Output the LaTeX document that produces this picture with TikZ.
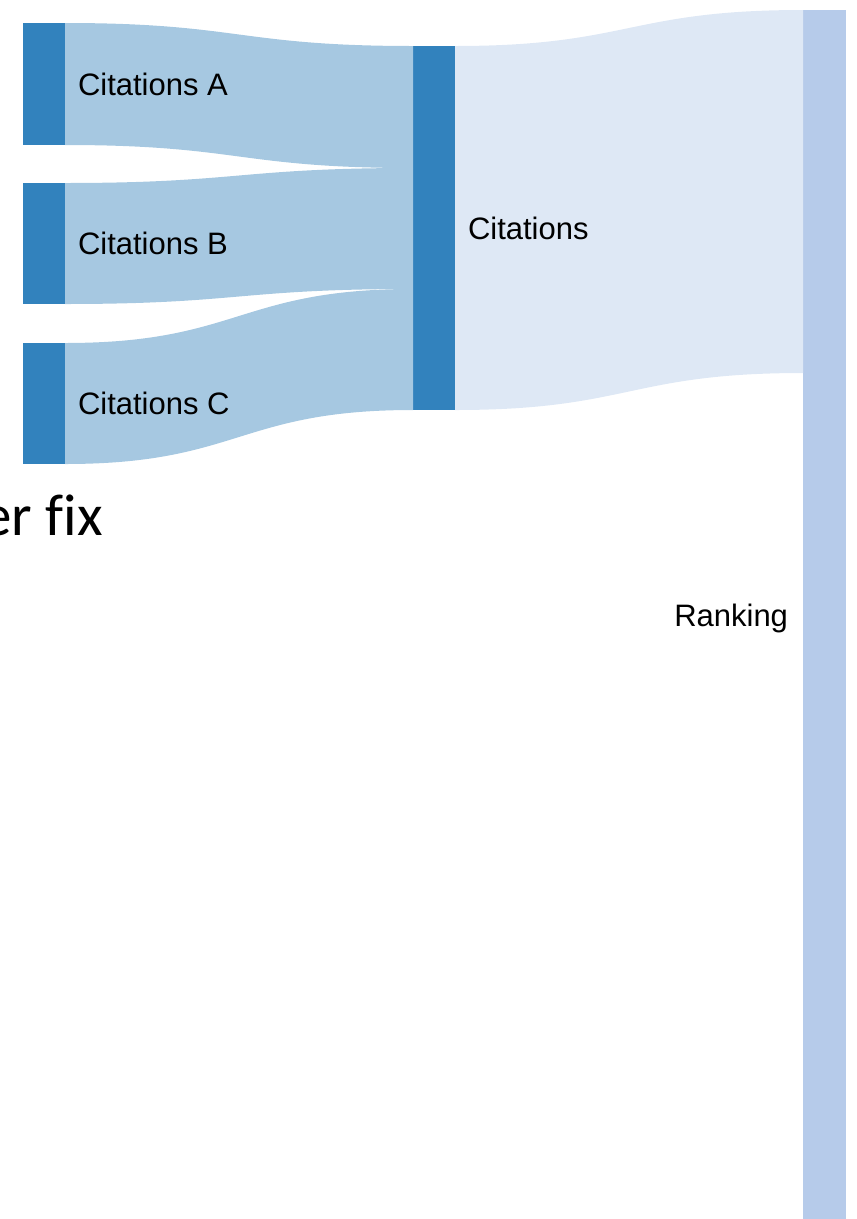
\documentclass[tikz,border=0pt]{standalone}
\usepackage{fontspec}
\setmainfont{Liberation Sans}
\newfontfamily\calib[Ligatures={NoCommon}]{Carlito}
\usetikzlibrary{calc}
\definecolor{barDark}{RGB}{50,130,189}
\definecolor{flowL}{RGB}{166,200,225}
\definecolor{flowM}{RGB}{222,232,245}
\definecolor{barR}{RGB}{182,203,234}
\begin{document}
\begin{tikzpicture}[x=1pt,y=-1pt,
  bar/.style={draw=none, fill=barDark, inner sep=0pt, outer sep=0pt, minimum width=42pt, anchor=north west},
  lbl/.style={inner sep=0pt, outer sep=0pt, font=\fontsize{31}{31}\selectfont},
  flowleft/.style={fill=flowL},
  flowmid/.style={fill=flowM},
]
\useasboundingbox (0,0) rectangle (857,1219);
% bars
\node[bar, minimum height=122pt] (ca) at (23,23) {};
\node[bar, minimum height=121pt] (cb) at (23,183) {};
\node[bar, minimum height=121pt] (cc) at (23,343) {};
\node[bar, minimum height=364pt] (cm) at (413,46) {};
\node[bar, fill=barR, minimum width=43pt, minimum height=1230pt] (rk) at (803,10) {};
% flows
\coordinate (m1) at ($(cm.north west)+(0,122)$);
\coordinate (m2) at ($(cm.north west)+(0,243)$);
\coordinate (r1) at ($(rk.north west)+(0,363)$);
\fill[flowleft] (ca.north east) .. controls +(174,0) and +(-174,0) .. (cm.north west)
  -- (m1) .. controls +(-174,0) and +(174,0) .. (ca.south east) -- cycle;
\fill[flowleft] (cb.north east) .. controls +(174,0) and +(-174,0) .. (m1)
  -- (m2) .. controls +(-174,0) and +(174,0) .. (cb.south east) -- cycle;
\fill[flowleft] (cc.north east) .. controls +(174,0) and +(-174,0) .. (m2)
  -- (cm.south west) .. controls +(-174,0) and +(174,0) .. (cc.south east) -- cycle;
\fill[flowmid] (cm.north east) .. controls +(174,0) and +(-174,0) .. (rk.north west)
  -- (r1) .. controls +(-174,0) and +(174,0) .. (cm.south east) -- cycle;
% labels
\node[lbl, anchor=west] (la) at ($(ca.east)+(13,0)$) {Citations A};
\node[lbl, anchor=west] (lb) at ($(cb.east)+(13,0)$) {Citations B};
\node[lbl, anchor=west] (lc) at ($(cc.east)+(13,0)$) {Citations C};
\node[lbl, anchor=west] (lm) at ($(cm.east)+(13,0)$) {Citations};
\node[lbl, anchor=base east] (lr) at (788,626) {Ranking};
\node[inner sep=0pt, anchor=base east, font=\calib\fontsize{59}{59}\selectfont] (fix) at (103,535) {er fix};
\end{tikzpicture}
\end{document}
